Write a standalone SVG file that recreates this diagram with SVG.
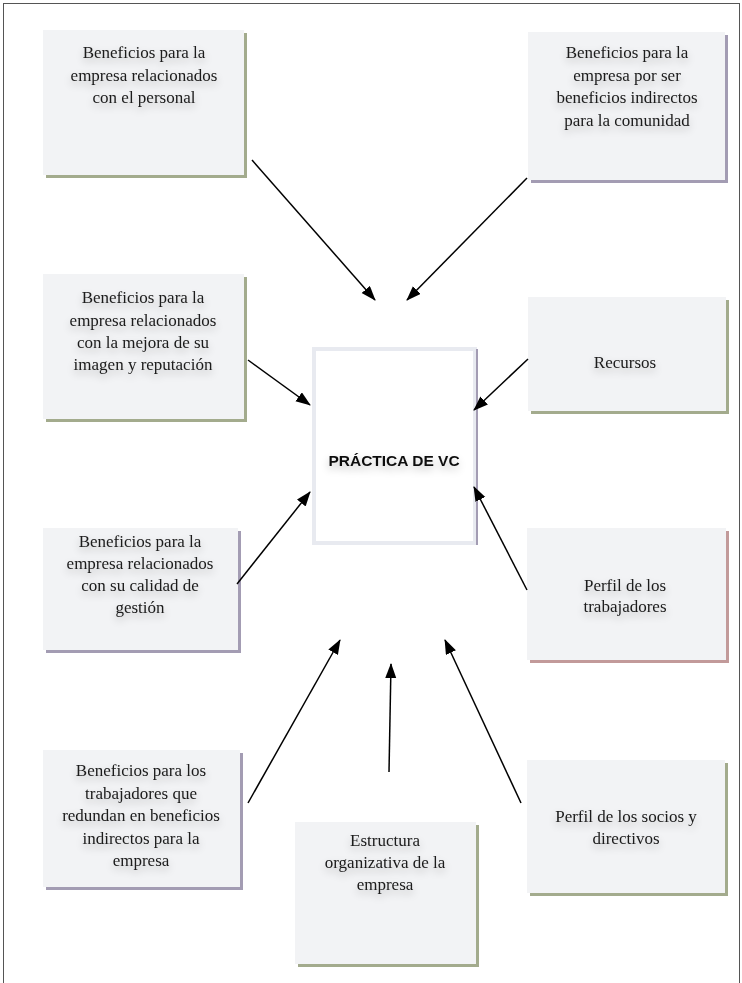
<svg xmlns="http://www.w3.org/2000/svg" width="742" height="983" viewBox="0 0 742 983">
<style>
.box{fill:#f2f3f5}
.sg{fill:#a3ab8d}
.sp{fill:#a39cb3}
.sr{fill:#c29a9a}
.t{font-family:"Liberation Serif","Times New Roman",serif;font-size:17px;fill:#1a1a1a;text-anchor:middle;filter:url(#glow)}
.c{font-family:"Liberation Sans",Arial,sans-serif;font-weight:bold;font-size:15.5px;fill:#111;text-anchor:middle;filter:url(#glow)}
.a{stroke:#000;stroke-width:1.5;fill:none;marker-end:url(#ah)}
</style>
<defs>
<marker id="ah" markerUnits="userSpaceOnUse" markerWidth="16" markerHeight="12" refX="14" refY="5.5" orient="auto">
<path d="M0,0 L15,5.5 L0,11 z" fill="#000"/>
</marker>
<filter id="glow" x="-20%" y="-40%" width="140%" height="200%">
<feGaussianBlur in="SourceAlpha" stdDeviation="4" result="b"/>
<feOffset dy="4" in="b" result="o"/>
<feComponentTransfer in="o" result="s"><feFuncA type="linear" slope="0.25"/></feComponentTransfer>
<feMerge><feMergeNode in="s"/><feMergeNode in="SourceGraphic"/></feMerge>
</filter>
</defs>
<rect x="3.5" y="3.5" width="736" height="995" fill="none" stroke="#555" stroke-width="1"/>

<g id="n1">
<rect class="sg" x="46" y="33" width="201" height="145"/>
<rect class="box" x="43" y="30" width="201" height="145"/>
<text class="t" x="144" y="58">Beneficios para la</text>
<text class="t" x="144" y="81">empresa relacionados</text>
<text class="t" x="144" y="103">con el personal</text>
</g>
<g id="n2">
<rect class="sp" x="531" y="35" width="197" height="148"/>
<rect class="box" x="528" y="32" width="197" height="148"/>
<text class="t" x="627" y="58">Beneficios para la</text>
<text class="t" x="627" y="81">empresa por ser</text>
<text class="t" x="627" y="103">beneficios indirectos</text>
<text class="t" x="627" y="126">para la comunidad</text>
</g>
<g id="n3">
<rect class="sg" x="46" y="277" width="201" height="145"/>
<rect class="box" x="43" y="274" width="201" height="145"/>
<text class="t" x="143" y="303">Beneficios para la</text>
<text class="t" x="143" y="326">empresa relacionados</text>
<text class="t" x="143" y="348">con la mejora de su</text>
<text class="t" x="143" y="370">imagen y reputación</text>
</g>
<g id="n4">
<rect class="sg" x="531" y="300" width="198" height="114"/>
<rect class="box" x="528" y="297" width="198" height="114"/>
<text class="t" x="625" y="368">Recursos</text>
</g>
<g id="center">
<rect x="314" y="349" width="161" height="194" fill="#fff" stroke="#e8eaf0" stroke-width="4"/>
<line x1="477" y1="349" x2="477" y2="545" stroke="#a39cb3" stroke-width="2"/>
<text class="c" x="394" y="466">PRÁCTICA DE VC</text>
</g>
<g id="n5">
<rect class="sp" x="46" y="531" width="195" height="122"/>
<rect class="box" x="43" y="528" width="195" height="122"/>
<text class="t" x="140" y="547">Beneficios para la</text>
<text class="t" x="140" y="569">empresa relacionados</text>
<text class="t" x="140" y="591">con su calidad de</text>
<text class="t" x="140" y="613">gestión</text>
</g>
<g id="n6">
<rect class="sr" x="530" y="531" width="199" height="132"/>
<rect class="box" x="527" y="528" width="199" height="132"/>
<text class="t" x="625" y="591">Perfil de los</text>
<text class="t" x="625" y="612">trabajadores</text>
</g>
<g id="n7">
<rect class="sp" x="46" y="753" width="197" height="137"/>
<rect class="box" x="43" y="750" width="197" height="137"/>
<text class="t" x="141" y="776">Beneficios para los</text>
<text class="t" x="141" y="799">trabajadores que</text>
<text class="t" x="141" y="821">redundan en beneficios</text>
<text class="t" x="141" y="844">indirectos para la</text>
<text class="t" x="141" y="866">empresa</text>
</g>
<g id="n8">
<rect class="sg" x="298" y="825" width="181" height="142"/>
<rect class="box" x="295" y="822" width="181" height="142"/>
<text class="t" x="385" y="846">Estructura</text>
<text class="t" x="385" y="868">organizativa de la</text>
<text class="t" x="385" y="890">empresa</text>
</g>
<g id="n9">
<rect class="sg" x="530" y="763" width="198" height="133"/>
<rect class="box" x="527" y="760" width="198" height="133"/>
<text class="t" x="626" y="822">Perfil de los socios y</text>
<text class="t" x="626" y="844">directivos</text>
</g>

<g id="connectors">
<line class="a" x1="252" y1="160" x2="375" y2="300"/>
<line class="a" x1="527" y1="178" x2="407" y2="300"/>
<line class="a" x1="248" y1="360" x2="310" y2="405"/>
<line class="a" x1="528" y1="359" x2="474" y2="410"/>
<line class="a" x1="237" y1="584" x2="310" y2="492"/>
<line class="a" x1="527" y1="590" x2="474" y2="487"/>
<line class="a" x1="248" y1="803" x2="340" y2="640"/>
<line class="a" x1="389" y1="772" x2="391" y2="664"/>
<line class="a" x1="521" y1="803" x2="445" y2="640"/>
</g>
</svg>
